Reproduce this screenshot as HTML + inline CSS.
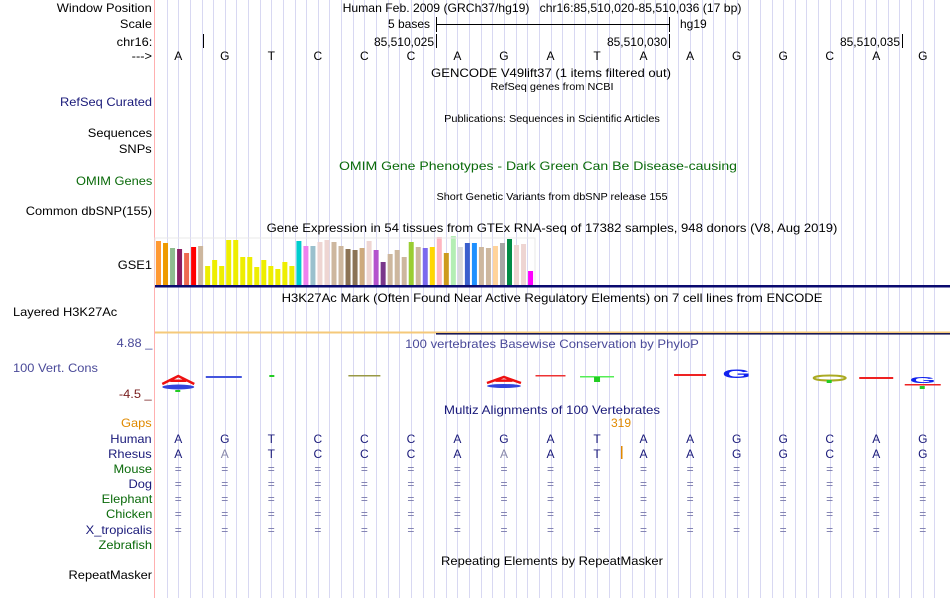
<!DOCTYPE html>
<html><head><meta charset="utf-8">
<style>
html,body{margin:0;padding:0;background:#fff;}
#root{position:relative;width:950px;height:598px;overflow:hidden;font-family:"Liberation Sans",sans-serif;font-size:12px;color:#000;}
.t{position:absolute;white-space:nowrap;line-height:14px;}
.lab{position:absolute;right:798px;white-space:nowrap;line-height:14px;text-align:right;transform:scaleX(1.07);transform-origin:right center;}
.labl{position:absolute;left:13px;white-space:nowrap;line-height:14px;transform:scaleX(1.07);transform-origin:left center;}
.c{transform:translateX(-50%);}
.c9{transform:translateX(-50%) scaleX(1.09);}
.s{font-size:10px;}
svg{position:absolute;left:0;top:0;}
</style></head>
<body>
<div id="root">
<svg id="svg" width="950" height="598"></svg>

<div class="lab" style="top:1px">Window Position</div>
<div class="lab" style="top:17px">Scale</div>
<div class="lab" style="top:35px">chr16:</div>
<div class="lab" style="top:49px">---&gt;</div>
<div class="lab" style="top:95px;color:#1a1a7a">RefSeq Curated</div>
<div class="lab" style="top:126px">Sequences</div>
<div class="lab" style="top:142px">SNPs</div>
<div class="lab" style="top:174px;color:#0a6a0a">OMIM Genes</div>
<div class="lab" style="top:204px">Common dbSNP(155)</div>
<div class="lab" style="top:258px">GSE1</div>
<div class="labl" style="top:305px">Layered H3K27Ac</div>
<div class="lab" style="top:336px;color:#4a4a99">4.88 _</div>
<div class="labl" style="top:361px;color:#4a4a99">100 Vert. Cons</div>
<div class="lab" style="top:387px;color:#7a2020">-4.5 _</div>
<div class="lab" style="top:416px;color:#e08a00">Gaps</div>
<div class="lab" style="top:432px;color:#1a1a7a">Human</div>
<div class="lab" style="top:447px;color:#1a1a7a">Rhesus</div>
<div class="lab" style="top:462px;color:#0a6a0a">Mouse</div>
<div class="lab" style="top:477px;color:#1a1a7a">Dog</div>
<div class="lab" style="top:492px;color:#0a6a0a">Elephant</div>
<div class="lab" style="top:507px;color:#0a6a0a">Chicken</div>
<div class="lab" style="top:523px;color:#1a1a7a">X_tropicalis</div>
<div class="lab" style="top:538px;color:#0a6a0a">Zebrafish</div>
<div class="lab" style="top:568px">RepeatMasker</div>

<div class="t" style="left:542px;top:1px;transform:translateX(-50%) scaleX(1.015)">Human Feb. 2009 (GRCh37/hg19)&nbsp;&nbsp;&nbsp;chr16:85,510,020-85,510,036 (17 bp)</div>
<div class="t" style="left:388px;top:17px">5 bases</div>
<div class="t" style="left:680px;top:17px">hg19</div>
<div class="t" style="right:516px;top:35px">85,510,025</div>
<div class="t" style="right:283px;top:35px">85,510,030</div>
<div class="t" style="right:50px;top:35px">85,510,035</div>
<div class="t c9" style="left:551px;top:66px">GENCODE V49lift37 (1 items filtered out)</div>
<div class="t c9 s" style="left:552px;top:81px">RefSeq genes from NCBI</div>
<div class="t c9 s" style="left:552px;top:113px">Publications: Sequences in Scientific Articles</div>
<div class="t" style="left:538px;top:159px;color:#0a6a0a;transform:translateX(-50%) scaleX(1.17)">OMIM Gene Phenotypes - Dark Green Can Be Disease-causing</div>
<div class="t c9 s" style="left:552px;top:191px">Short Genetic Variants from dbSNP release 155</div>
<div class="t c9" style="left:552px;top:221px">Gene Expression in 54 tissues from GTEx RNA-seq of 17382 samples, 948 donors (V8, Aug 2019)</div>
<div class="t c9" style="left:552px;top:291px">H3K27Ac Mark (Often Found Near Active Regulatory Elements) on 7 cell lines from ENCODE</div>
<div class="t c9" style="left:552px;top:337px;color:#4a4a99">100 vertebrates Basewise Conservation by PhyloP</div>
<div class="t" style="left:552px;top:403px;color:#1a1a7a;transform:translateX(-50%) scaleX(1.11)">Multiz Alignments of 100 Vertebrates</div>
<div class="t c" style="left:621px;top:416px;color:#e08a00">319</div>
<div class="t" style="left:552px;top:554px;transform:translateX(-50%) scaleX(1.08)">Repeating Elements by RepeatMasker</div>
<div id="bases"></div>
</div>

<script>
const bases = ["A","G","T","C","C","C","A","G","A","T","A","A","G","G","C","A","G"];
const rhesus = ["A","A","T","C","C","C","A","A","A","T","A","A","G","G","C","A","G"];
const rhesusDiff = [false,true,false,false,false,false,false,true,false,false,false,false,false,false,false,false,false];
const gtexValues = [44,42,37,36,32,38,39,19,25,19,45,45,28,28,18,25,19,16,23,19,44,39,39,43,45,43,39,36,35,37,44,35,23,31,35,28,43,38,37,38,48,32,49,38,42,42,38,37,39,42,46,40,41,14];
const gtexColors = ["#ff9933","#ee9900","#8fbc8f","#8b1c62","#ee6a50","#ff0000","#cdb79e","#eeee00","#eeee00","#eeee00","#eeee00","#eeee00","#eeee00","#eeee00","#eeee00","#eeee00","#eeee00","#eeee00","#eeee00","#eeee00","#00cdcd","#ee82ee","#9ac0cd","#eed5d2","#eed5d2","#cdb79e","#cdb79e","#8b7355","#8b7355","#cdaa7d","#eed5d2","#b452cd","#7a378b","#cdb79e","#cdb79e","#cdb79e","#9acd32","#cdb79e","#7b68ee","#ffd700","#ffb6c1","#cd9b1d","#b4eeb4","#d9d9d9","#3a5fcd","#1e90ff","#cdb79e","#cdb79e","#ffd39b","#a6a6a6","#008b45","#eed5d2","#eed5d2","#ff00ff"];

const X0 = 155, W = 46.53;
const bx = i => X0 + W*(i+0.5);
const NS = "http://www.w3.org/2000/svg";
const svg = document.getElementById('svg');
function el(tag, attrs){const e=document.createElementNS(NS,tag);for(const k in attrs)e.setAttribute(k,attrs[k]);svg.appendChild(e);return e;}

for(let k=1;k<68;k++){
  const x = Math.round(X0 + k*W/4)+0.5;
  const g = el('line',{x1:x,y1:0,x2:x,y2:598,stroke:'#d8d8f2','stroke-width':1});
  
  
}
const lb = el('line',{x1:154.5,y1:0,x2:154.5,y2:598,stroke:'#ffb0b0','stroke-width':1});



el('line',{x1:436.5,y1:24.5,x2:669.5,y2:24.5,stroke:'#000'});
el('line',{x1:436.5,y1:17,x2:436.5,y2:32,stroke:'#000'});
el('line',{x1:669.5,y1:17,x2:669.5,y2:32,stroke:'#000'});
[203,436,669,902].forEach(x=>{
  const t=el('line',{x1:x+0.5,y1:34,x2:x+0.5,y2:48,stroke:'#000'});
  
  
});

const barBase = 285, pitch = 7.02, bw = 5;
gtexValues.forEach((v,i)=>{
  const r = el('rect',{x:X0+1+i*pitch,y:barBase-v,width:bw,height:v,fill:gtexColors[i]});
  
  
});
el('rect',{x:155,y:238,width:380,height:48,fill:'none',stroke:'#e8e8e8','stroke-width':1});
el('rect',{x:155,y:285,width:795,height:2.5,fill:'#0a0a6e'});
el('rect',{x:155,y:331.5,width:795,height:2,fill:'#f5c97a'});
el('rect',{x:436,y:333,width:514,height:1.6,fill:'#1a1a55'});

function A(cx,y,h,w,col){el('path',{d:`M${cx-w/2} ${y+h} L${cx} ${y} L${cx+w/2} ${y+h} M${cx-w/4} ${y+h*0.6} L${cx+w/4} ${y+h*0.6}`,stroke:col,'stroke-width':2.5,fill:'none'});}
A(bx(0),376,8,32,'#ee1111');
el('ellipse',{cx:bx(0),cy:387,rx:16,ry:2.5,fill:'#3344dd'});
el('rect',{x:bx(0)-3,y:390,width:5,height:2,fill:'#22cc22'});
el('rect',{x:bx(1)-19,y:376,width:36,height:2,fill:'#4455dd'});
el('rect',{x:bx(2)-2,y:375,width:5,height:2,fill:'#22cc22'});
el('rect',{x:bx(4)-16,y:375,width:32,height:1.5,fill:'#999944'});
A(bx(7),377,6,34,'#ee1111');
el('ellipse',{cx:bx(7),cy:386,rx:17,ry:2,fill:'#3344dd'});
el('rect',{x:bx(8)-15,y:375,width:30,height:1.5,fill:'#ee3333'});
el('rect',{x:bx(9)-17,y:376,width:34,height:1.5,fill:'#55ee55'});
el('rect',{x:bx(9)-3,y:377,width:6,height:5,fill:'#22cc22'});
el('rect',{x:bx(11)-16,y:374,width:32,height:2,fill:'#ee2222'});
const g1=el('text',{x:bx(12),y:378,'text-anchor':'middle','font-family':'Liberation Sans','font-size':16,'font-weight':'bold',fill:'#1122ee',transform:`translate(${bx(12)} 378) scale(2.3 0.75) translate(${-bx(12)} -378)`});g1.textContent='G';
el('ellipse',{cx:bx(14),cy:378,rx:16,ry:2.5,fill:'none',stroke:'#aaaa22','stroke-width':2});
el('rect',{x:bx(14)-3,y:380,width:5,height:3,fill:'#22cc22'});
el('rect',{x:bx(15)-17,y:377,width:34,height:2,fill:'#ee2222'});
const g2=el('text',{x:bx(16),y:383,'text-anchor':'middle','font-family':'Liberation Sans','font-size':14,'font-weight':'bold',fill:'#1122ee',transform:`translate(${bx(16)} 383) scale(2.4 0.6) translate(${-bx(16)} -383)`});g2.textContent='G';
el('rect',{x:bx(16)-18,y:384,width:36,height:1.5,fill:'#ee2222'});
el('rect',{x:bx(16)-3,y:386,width:5,height:3,fill:'#22cc22'});

el('rect',{x:621,y:446,width:1.5,height:13,fill:'#e08a00'});

const holder = document.getElementById('bases');
function txt(x,y,s,col,name){
  const d=document.createElement('div');
  d.className='t c';
  d.style.left=x+'px';d.style.top=y+'px';d.style.color=col;
  d.textContent=s;
  
  
  holder.appendChild(d);
}
bases.forEach((b,i)=>{
  txt(bx(i),49,b,'#000','ref-base');
  txt(bx(i),432,b,'#1a1a7a','human-base');
  txt(bx(i),447,rhesus[i],rhesusDiff[i]?'#8888aa':'#1a1a7a','rhesus-base');
  [462,477,492,507,523].forEach(y=>txt(bx(i),y,'=','#7777aa','species-match'));
});
</script>
</body></html>
